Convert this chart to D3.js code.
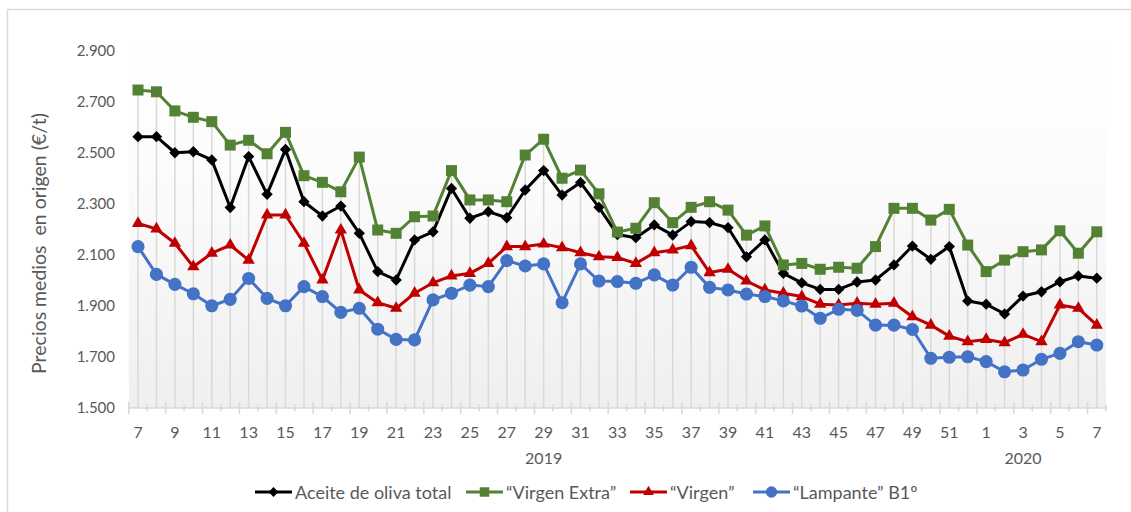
<!DOCTYPE html>
<html>
<head>
<meta charset="utf-8">
<script src="https://cdn.jsdelivr.net/npm/d3@7"></script>
<style>
  html, body { margin: 0; padding: 0; background: #fff; }
  svg { display: block; font-family: Lato, "Open Sans", sans-serif; }
</style>
</head>
<body>
<svg id="chart" width="1131" height="512"></svg>
<script>
// ---------- DATA ----------
const weeks = [7,8,9,10,11,12,13,14,15,16,17,18,19,20,21,22,23,24,25,26,27,28,29,30,31,32,33,34,35,36,37,38,39,40,41,42,43,44,45,46,47,48,49,50,51,52,1,2,3,4,5,6,7];
const yearLabels = ["2019", "2020"];
const yearLabelAt = [22, 48]; // category index under which each year label sits
const yTicks = [1500, 1700, 1900, 2100, 2300, 2500, 2700, 2900];

const seriesNames = ["Aceite de oliva total", "\u201cVirgen Extra\u201d", "\u201cVirgen\u201d", "\u201cLampante\u201d B1\u00ba"];

const total = [2564,2564,2501,2505,2473,2286,2486,2338,2514,2309,2253,2292,2185,2035,2002,2159,2191,2361,2244,2270,2246,2355,2431,2335,2384,2287,2180,2168,2218,2178,2231,2227,2207,2093,2159,2028,1991,1965,1965,1994,2002,2061,2135,2083,2133,1920,1907,1869,1939,1956,1995,2018,2009];
const virgenExtra = [2747,2740,2665,2640,2623,2531,2550,2497,2581,2411,2385,2348,2484,2198,2185,2250,2253,2431,2316,2316,2309,2492,2554,2401,2433,2340,2190,2205,2305,2227,2287,2309,2276,2178,2214,2061,2067,2044,2052,2048,2133,2283,2283,2237,2279,2139,2035,2080,2113,2120,2195,2107,2191];
const virgen = [2224,2202,2146,2054,2107,2139,2080,2257,2257,2146,2002,2198,1963,1913,1891,1950,1991,2018,2028,2067,2133,2133,2143,2129,2109,2093,2090,2067,2109,2120,2137,2031,2044,1998,1963,1950,1937,1907,1904,1911,1907,1911,1858,1825,1782,1760,1769,1756,1789,1760,1904,1891,1825];
const lampante = [2133,2024,1985,1948,1901,1926,2008,1930,1901,1976,1937,1875,1891,1809,1769,1767,1924,1950,1982,1976,2078,2057,2065,1913,2065,1998,1996,1989,2022,1982,2052,1973,1963,1947,1937,1920,1900,1852,1887,1883,1825,1825,1808,1695,1699,1701,1682,1642,1649,1691,1714,1760,1747];

// ---------- STYLE ----------
const colors = ["#000000", "#548235", "#c00000", "#4472c4"];
const markerTypes = ["diamond", "square", "triangle", "circle"];
const textColor = "#595959";
const gridGray = "#d9d9d9";

const svg = d3.select("#chart");
const M = { left: 128.8, right: 1106, top: 51, bottom: 408 };

// Outer border
svg.append("rect").attr("x", 7.5).attr("y", 9.5).attr("width", 1140).attr("height", 520)
  .attr("fill", "#fff").attr("stroke", gridGray).attr("stroke-width", 1.5);

// Gradient plot background
const defs = svg.append("defs");
const grad = defs.append("linearGradient").attr("id", "bg").attr("x1", 0).attr("y1", 0).attr("x2", 0).attr("y2", 1);
grad.append("stop").attr("offset", "0%").attr("stop-color", "#ffffff");
grad.append("stop").attr("offset", "35%").attr("stop-color", "#fcfcfc");
grad.append("stop").attr("offset", "100%").attr("stop-color", "#efefef");

const idx = d3.range(weeks.length);
const x = d3.scaleBand().domain(idx).range([M.left, M.right]).padding(0);
const cx = i => x(i) + x.bandwidth() / 2;
const y = d3.scaleLinear().domain([1500, 2900]).range([M.bottom, M.top]);

svg.append("rect").attr("x", M.left).attr("y", 38).attr("width", M.right - M.left).attr("height", M.bottom - 38)
  .attr("fill", "url(#bg)");

const series = [total, virgenExtra, virgen, lampante];

// Drop lines from highest point to axis
svg.append("g").selectAll("line").data(idx).join("line")
  .attr("x1", i => cx(i)).attr("x2", i => cx(i))
  .attr("y1", i => y(d3.max(series, s => s[i])))
  .attr("y2", y(1500))
  .attr("stroke", gridGray).attr("stroke-width", 1.5);

// X axis line and tick marks at category boundaries
svg.append("line").attr("x1", M.left).attr("x2", M.right).attr("y1", y(1500)).attr("y2", y(1500))
  .attr("stroke", gridGray).attr("stroke-width", 1.5);
const bounds = d3.range(weeks.length + 1);
svg.append("g").selectAll("line").data(bounds).join("line")
  .attr("x1", k => k < weeks.length ? x(k) : M.right)
  .attr("x2", k => k < weeks.length ? x(k) : M.right)
  .attr("y1", k => y(1500) - (k % 2 === 0 ? 6 : 3.5))
  .attr("y2", k => y(1500) + (k % 2 === 0 ? 6 : 3.5))
  .attr("stroke", gridGray).attr("stroke-width", 1.5);

// X tick labels (every second category)
const xAxis = d3.axisBottom(x).tickValues(idx.filter(i => i % 2 === 0)).tickFormat(i => weeks[i]).tickSize(0).tickPadding(19);
const gx = svg.append("g").attr("transform", `translate(0,${y(1500)})`).call(xAxis);
gx.select(".domain").remove();
gx.selectAll("text").attr("fill", textColor).style("font-size", "16px").style("font-family", "Lato");

// Year labels
svg.append("g").selectAll("text").data(yearLabels).join("text")
  .attr("x", (d, j) => cx(yearLabelAt[j])).attr("y", 464)
  .attr("text-anchor", "middle").attr("fill", textColor).style("font-size", "16px")
  .text(d => d);

// Y axis
const loc = d3.formatLocale({ decimal: ",", thousands: ".", grouping: [3], currency: ["", "\u20ac"] });
const yAxis = d3.axisLeft(y).tickValues(yTicks).tickFormat(loc.format(",d")).tickSize(0).tickPadding(0);
const gy = svg.append("g").attr("transform", `translate(115,0)`).call(yAxis);
gy.select(".domain").remove();
gy.selectAll("text").attr("fill", textColor).style("font-size", "15px").style("font-family", "Lato");

// Y title
svg.append("text").attr("transform", `translate(45.5,${243.5}) rotate(-90)`)
  .attr("text-anchor", "middle").attr("fill", textColor).style("font-size", "19.5px")
  .attr("xml:space", "preserve")
  .text("Precios medios  en origen (\u20ac/t)");

// Marker generator
function markerPath(type, scale) {
  scale = scale || 1;
  if (type === "diamond") return d3.symbol().type(d3.symbolSquare).size(64 * scale)();
  if (type === "square") return d3.symbol().type(d3.symbolSquare).size(121 * scale)();
  if (type === "triangle") return d3.symbol().type(d3.symbolTriangle).size(66 * scale)();
  return d3.symbol().type(d3.symbolCircle).size(135 * scale)();
}

const line = d3.line().x((d, i) => cx(i)).y(d => y(d));

series.forEach((s, k) => {
  const g = svg.append("g");
  g.append("path").datum(s).attr("d", line).attr("fill", "none")
    .attr("stroke", colors[k]).attr("stroke-width", 3).attr("stroke-linejoin", "round");
  g.selectAll("path.m").data(s).join("path").attr("class", "m")
    .attr("d", markerPath(markerTypes[k]))
    .attr("transform", (d, i) => `translate(${cx(i)},${y(d)})${markerTypes[k] === "diamond" ? " rotate(45)" : ""}`)
    .attr("fill", colors[k]);
});

// Legend
const legendX = [255, 466, 630, 753];
const lg = svg.append("g");
seriesNames.forEach((name, k) => {
  const gx0 = legendX[k], ly = 492;
  lg.append("line").attr("x1", gx0).attr("x2", gx0 + 37).attr("y1", ly).attr("y2", ly)
    .attr("stroke", colors[k]).attr("stroke-width", 3);
  lg.append("path").attr("d", markerPath(markerTypes[k], 0.75))
    .attr("transform", `translate(${gx0 + 18.5},${ly})${markerTypes[k] === "diamond" ? " rotate(45)" : ""}`)
    .attr("fill", colors[k]);
  lg.append("text").attr("x", gx0 + 40).attr("y", ly + 6.5).attr("fill", textColor)
    .style("font-size", "18px").text(name);
});
</script>
</body>
</html>
